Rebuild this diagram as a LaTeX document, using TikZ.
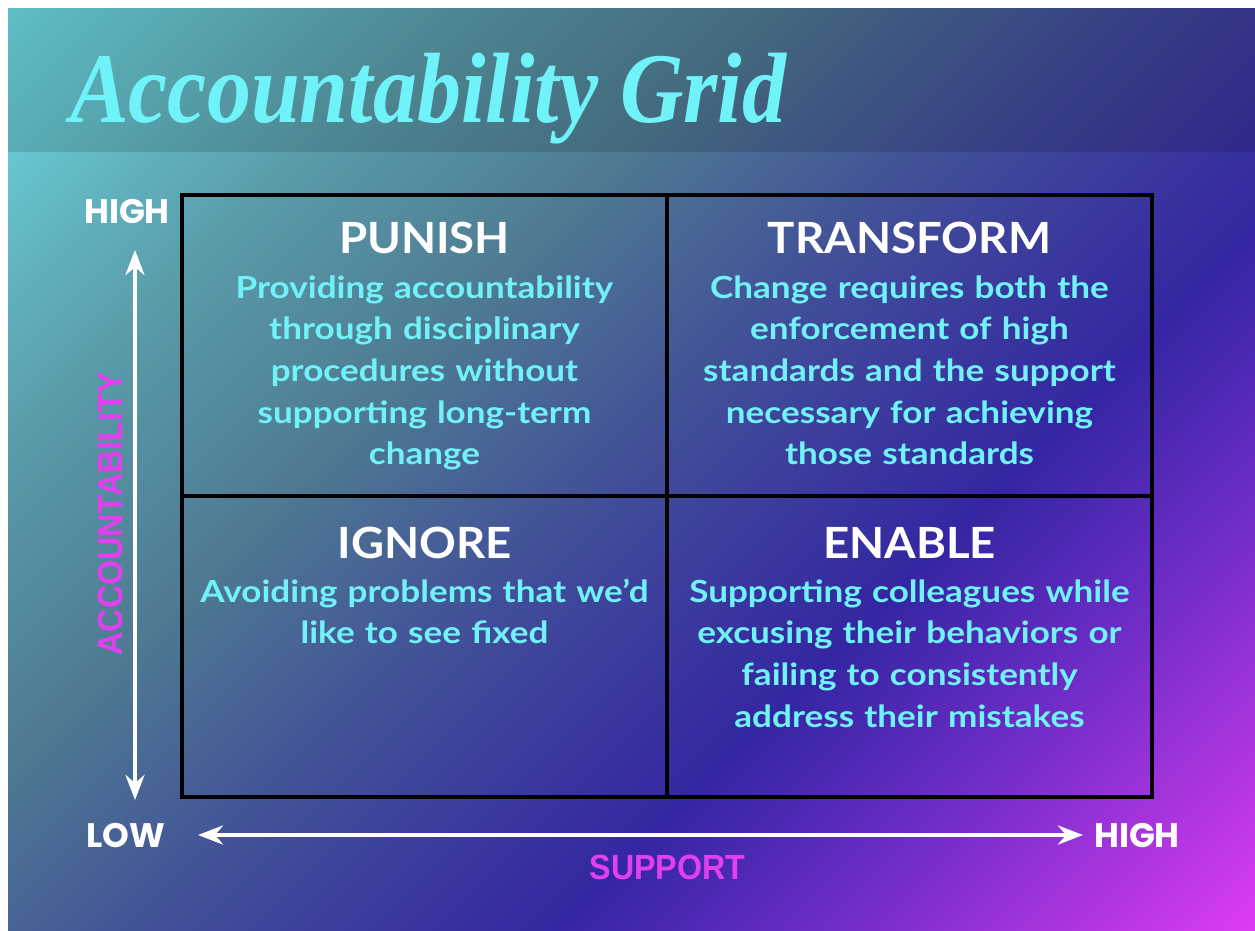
\documentclass[tikz,border=0pt]{standalone}
\usepackage{fontspec}
\usepackage{tikz}
\usetikzlibrary{arrows, arrows.meta, calc, positioning}
\newfontfamily\titlefont{Liberation Serif}[FakeStretch=0.88]
\newfontfamily\headfont{Lato}[FakeStretch=1.06]
\newfontfamily\descfont{Lato}[FakeStretch=1.15]
\newfontfamily\axisfont{Poppins}
\newfontfamily\namefont{Liberation Sans}[FakeStretch=0.92]
\definecolor{bgA}{HTML}{6DDAE2}
\definecolor{bgB}{HTML}{5A9CAA}
\definecolor{bgC}{HTML}{4E7A92}
\definecolor{bgD}{HTML}{414E98}
\definecolor{bgE}{HTML}{3426A2}
\definecolor{bgF}{HTML}{6C2CC6}
\definecolor{bgG}{HTML}{DC3CF0}
\definecolor{titlecyan}{HTML}{6FF3F8}
\definecolor{desccyan}{HTML}{70F2F8}
\definecolor{axismagenta}{HTML}{E040EE}
\pgfdeclarehorizontalshading{gridbg}{100bp}{color(0bp)=(bgA); color(14.6bp)=(bgA); color(28.8bp)=(bgB); color(39.4bp)=(bgC); color(50bp)=(bgD); color(62.7bp)=(bgE); color(71.2bp)=(bgF); color(85.4bp)=(bgG); color(100bp)=(bgG)}
\tikzset{
	titletext/.style={font=\titlefont\bfseries\itshape\fontsize{100}{100}\selectfont, text=titlecyan, inner sep=0pt},
	cellhead/.style={font=\headfont\bfseries\fontsize{43}{43}\selectfont, text=white, anchor=base, inner sep=0pt},
	celldesc/.style={font=\descfont\bfseries\fontsize{30.5}{41.7}\selectfont, text=desccyan, text width=470pt, align=center, inner sep=0pt},
	axislabel/.style={font=\axisfont\bfseries\fontsize{34}{34}\selectfont, text=white, inner sep=0pt},
	axisname/.style={font=\namefont\bfseries\fontsize{35}{35}\selectfont, text=axismagenta, inner sep=0pt},
	axisarrow/.style={draw=white, line width=4pt, {Stealth[length=25pt,width=19pt,inset=8pt]}-{Stealth[length=25pt,width=19pt,inset=8pt]}},
	gridline/.style={draw=black, line width=4pt}
}
\begin{document}
\begin{tikzpicture}[x=1pt, y=-1pt]
		\useasboundingbox (0,0) rectangle (1255,930);
		\fill[white] (0,0) rectangle (1255,930);
		\shade[shading=gridbg, shading angle=-45] (8,8) rectangle (1255,930);
		\fill[black, opacity=.13] (8,8) rectangle (1255,152);
		% title
		\node[titletext, anchor=base west] (title) at (70,122) {Accountability Grid};
		% grid
		\coordinate (nw) at (182,195);
		\coordinate (se) at (1152,797);
		\draw[gridline] (nw) rectangle (se);
		\draw[gridline] ($(nw)!.5!(se |- nw)$) -- ($(nw |- se)!.5!(se)$)
			($(nw)!.5!(nw |- se)$) -- ($(se |- nw)!.5!(se)$);
		\node[cellhead] (punish) at (424.5,253) {PUNISH};
		\node[celldesc, below=45pt of punish.base, anchor=base] (punishtext) {Providing accountability\\through disciplinary\\procedures without\\supporting long-term\\change};
		\node[cellhead] (transform) at (909.5,253) {TRANSFORM};
		\node[celldesc, below=45pt of transform.base, anchor=base] (transformtext) {Change requires both the\\enforcement of high\\standards and the support\\necessary for achieving\\those standards};
		\node[cellhead] (ignore) at (424.5,558) {IGNORE};
		\node[celldesc, below=44pt of ignore.base, anchor=base] (ignoretext) {Avoiding problems that we’d\\like to see fixed};
		\node[cellhead] (enable) at (909.5,558) {ENABLE};
		\node[celldesc, below=44pt of enable.base, anchor=base] (enabletext) {Supporting colleagues while\\excusing their behaviors or\\failing to consistently\\address their mistakes};
		% axes
		\node[axislabel] (acchighlbl) at (127,212) {HIGH};
		\node[axislabel] (lowlbl) at (125.5,835) {LOW};
		\node[axislabel] (suphighlbl) at (1137,835) {HIGH};
		\coordinate (acclow) at (135,800);
		\coordinate (acchigh) at (135,250);
		\coordinate (suplow) at (198,835);
		\coordinate (suphigh) at (1083,835);
		\draw[axisarrow] (acclow) -- (acchigh);
		\draw[axisarrow] (suplow) -- (suphigh);
		\node[axisname, rotate=90] (accname) at (110.5,513.5) {ACCOUNTABILITY};
		\node[axisname] (supname) at (667.5,867.5) {SUPPORT};
	\end{tikzpicture}
\end{document}
